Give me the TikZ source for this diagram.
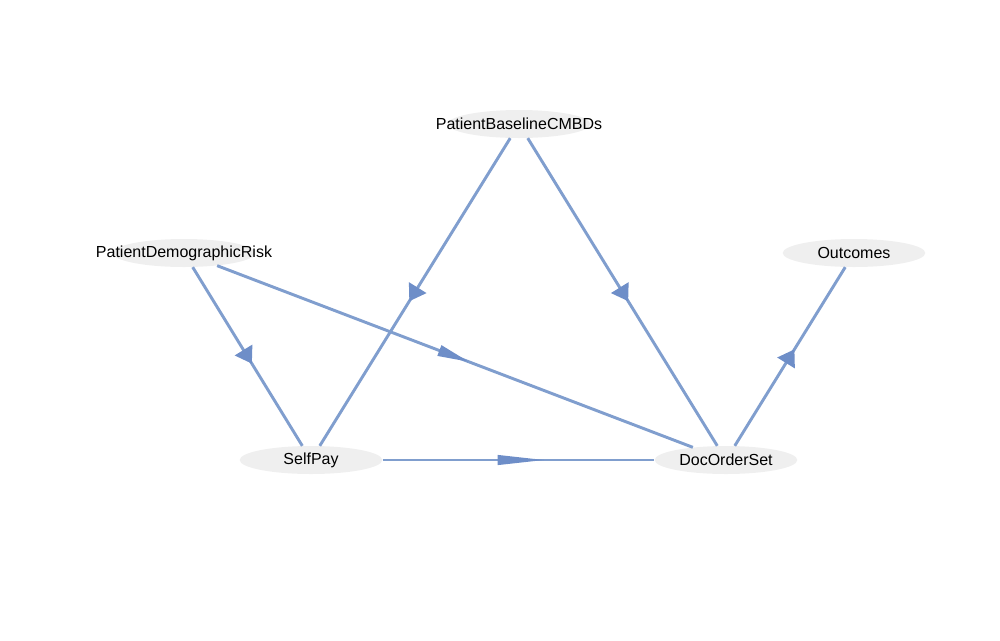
\documentclass[tikz,border=0pt]{standalone}
\usepackage{fontspec}
\setmainfont{Liberation Sans}
\usepackage{xcolor}
\usepackage{tikz}
\usetikzlibrary{shapes.geometric, arrows.meta, decorations.markings}
\definecolor{nodegray}{RGB}{239,239,239}
\definecolor{edgeblue}{RGB}{128,158,206}
\definecolor{headblue}{RGB}{110,142,200}
\newcommand{\lbl}[1]{\makebox[0pt]{\raisebox{-1.5pt}{#1}}}
\tikzstyle{var} = [ellipse, fill=nodegray, draw=none, inner sep=0pt, minimum width=107pt, minimum height=21pt, font=\fontsize{12}{14}\selectfont]
\tikzstyle{link} = [draw=edgeblue, line width=2.2pt]
\tikzset{midhead/.style n args={3}{postaction={decorate}, decoration={markings, mark=at position #1 with {\arrow[headblue]{Triangle[length=#2, width=#3]}}}}}

\begin{document}
\begin{tikzpicture}[x=0.75pt, y=-0.75pt]
\useasboundingbox (0,0) rectangle (1000,640);

\node (pbc) [var] at (519,124) {\lbl{PatientBaselineCMBDs}};
\node (pdr) [var] at (184,253) {\lbl{PatientDemographicRisk}};
\node (out) [var] at (854,253) {\lbl{Outcomes}};
\node (self) [var] at (311,460) {\lbl{SelfPay}};
\node (dos) [var] at (726,460) {\lbl{DocOrderSet}};

\draw [link, midhead={0.53}{12pt}{15pt}] (pbc) -- (self);
\draw [link, midhead={0.53}{12pt}{15pt}] (pbc) -- (dos);
\draw [link, midhead={0.54}{12pt}{15pt}] (pdr) -- (self);
\draw [link, midhead={0.53}{24pt}{8pt}] (pdr) -- (dos);
\draw [link, midhead={0.6}{36pt}{7pt}] (self) -- (dos);
\draw [link, midhead={0.54}{12pt}{15pt}] (dos) -- (out);

\end{tikzpicture}
\end{document}
